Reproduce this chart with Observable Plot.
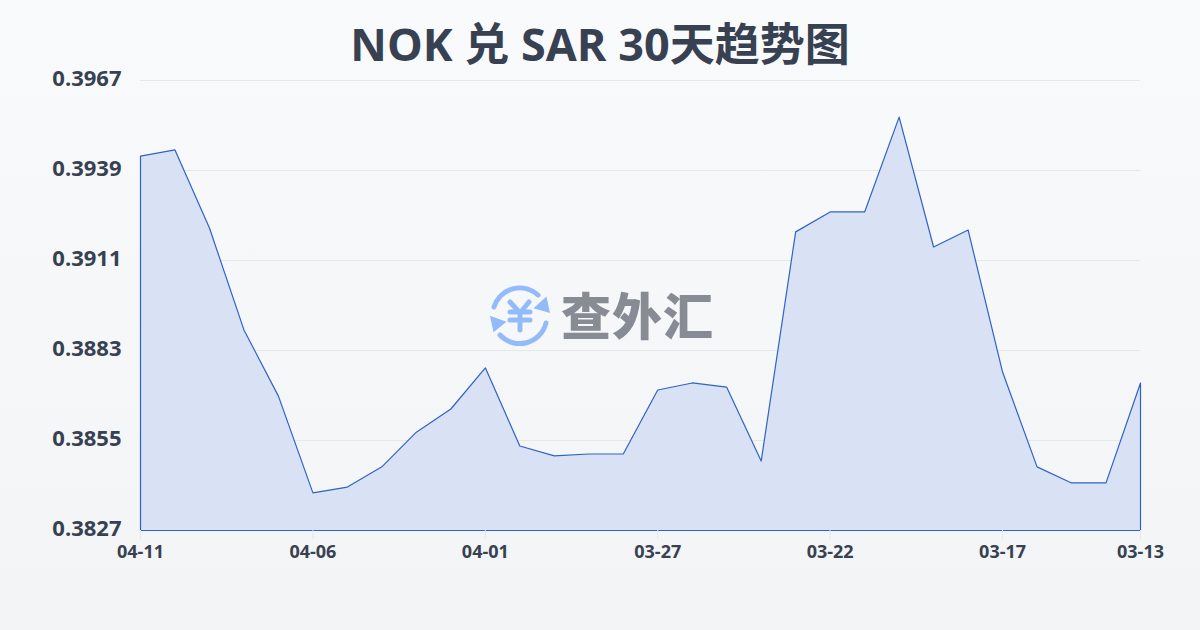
<!DOCTYPE html>
<html><head><meta charset="utf-8">
<script src="https://cdn.jsdelivr.net/npm/d3@7"></script>
<script src="https://cdn.jsdelivr.net/npm/@observablehq/plot@0.6"></script>
<style>
html,body{margin:0;padding:0;width:1200px;height:630px;overflow:hidden;background:linear-gradient(180deg,#f8fafc,#f3f4f6);}
#wrap{position:relative;width:1200px;height:630px;}
#title{position:absolute;left:0;right:0;top:14px;text-align:center;font:700 45px "Open Sans","Noto Sans CJK SC",sans-serif;line-height:60px;color:#374151;}
#chart{position:absolute;left:0;top:60px;}
#mark{position:absolute;left:488px;top:284px;display:flex;align-items:center;}
#mark span{font:900 50px "Noto Sans CJK SC",sans-serif;color:#868b94;line-height:60px;margin-left:9px;letter-spacing:1px;position:relative;top:-2px;}
</style></head><body><div id="wrap">
<div id="title">NOK 兑 SAR 30天趋势图</div>
<div id="chart"></div>
<div id="mark">
<svg width="64" height="62" viewBox="0 0 64 62" fill="none" stroke="#93bbf9" stroke-width="5" stroke-linecap="round">
<path d="M6 23A27 27 0 0 1 50 11"/><path d="M58 39A27 27 0 0 1 12 51"/>
<path d="M58 14L61 28L47 24Z" fill="#93bbf9" stroke="#93bbf9" stroke-width="1.5"/><path d="M3 33L17 38L6 47Z" fill="#93bbf9" stroke="#93bbf9" stroke-width="1.5"/>
<path d="M22 18L32 29L41 18M22 28H42M22 36H42M32 29V46"/>
</svg><span>查外汇</span></div>
</div>
<script>
const dates=["04-11","04-10","04-09","04-08","04-07","04-06","04-05","04-04","04-03","04-02","04-01","03-31","03-30","03-29","03-28","03-27","03-26","03-25","03-24","03-23","03-22","03-21","03-20","03-19","03-18","03-17","03-16","03-15","03-14","03-13"];
const rates=[0.39435,0.39454,0.39211,0.38894,0.38688,0.38387,0.38405,0.38468,0.38576,0.38648,0.38776,0.38533,0.38502,0.38508,0.38508,0.38707,0.38729,0.38716,0.38486,0.39199,0.39261,0.39261,0.39556,0.39152,0.39205,0.38763,0.38468,0.38418,0.38418,0.38729];
const yTicks=[0.3827,0.3855,0.3883,0.3911,0.3939,0.3967];
const xTicks=["04-11","04-06","04-01","03-27","03-22","03-17","03-13"];
const rows=dates.map((d,i)=>({d,v:rates[i]}));
const base=yTicks[0];
const p=Plot.plot({width:1200,height:520,marginLeft:140,marginRight:60,marginTop:20,marginBottom:50,
 style:{background:"transparent",fontFamily:"'Open Sans','Noto Sans CJK SC',sans-serif",overflow:"visible"},
 x:{type:"point",domain:dates,padding:0,round:false,label:null,axis:null},
 y:{domain:[base,yTicks[5]],label:null,axis:null},
 marks:[
  Plot.ruleY(yTicks.slice(1),{stroke:"#e5e7eb",strokeWidth:1}),
  Plot.areaY(rows,{x:"d",y1:()=>base,y2:"v",fill:"#d9e2f5",fillOpacity:1,stroke:"#2f62c8",strokeWidth:1.2,curve:"linear",dx:0.5,dy:0.5}),
  Plot.axisX({ticks:xTicks,tickSize:9,tickPadding:6,stroke:"#e5e7eb",fontSize:18,fontWeight:700,fill:"#374151",label:null,anchor:"bottom",tickFormat:d=>d}),
  Plot.axisY({ticks:yTicks,tickSize:0,tickPadding:19,fontSize:22,fontWeight:700,fill:"#374151",label:null,anchor:"left",tickFormat:d=>d.toFixed(4),dy:-2})
 ]});
document.getElementById("chart").appendChild(p);
</script></body></html>
